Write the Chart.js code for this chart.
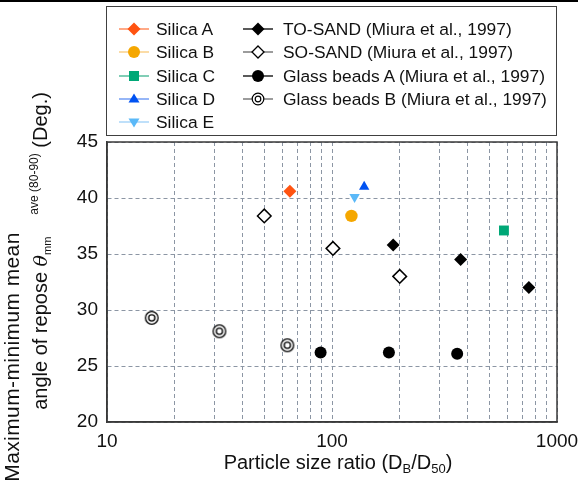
<!DOCTYPE html>
<html>
<head>
<meta charset="utf-8">
<script src="https://cdn.jsdelivr.net/npm/chart.js@4.4.1/dist/chart.umd.min.js"></script>
<style>
  body { margin: 0; background: #fff; font-family: "Liberation Sans", Arial, sans-serif; color: #111; }
  #wrap { position: relative; width: 578px; height: 480px; overflow: hidden; }
  #topbar { position: absolute; left: 0; top: 0; width: 578px; height: 2px; background: #000; }
  #legend { position: absolute; left: 106px; top: 6px; width: 451px; height: 130px; border: 1px solid #404040; box-sizing: border-box; }
  .mk { position: absolute; }
  .lbl { position: absolute; font-size: 17.4px; line-height: 20px; white-space: nowrap; }
  .ytitle { position: absolute; transform: translate(-50%, -50%) rotate(-90deg); white-space: nowrap; font-size: 20px; line-height: 24px; }
  .ytitle i { font-family: "DejaVu Serif", serif; font-size: 19px; }
  .ytitle sub { font-size: 11px; line-height: 0; vertical-align: -4px; }
  .ytitle sup { font-size: 12px; line-height: 0; vertical-align: 9px; margin-left: 22px; }
  #xtitle { position: absolute; left: 338px; top: 462px; transform: translate(-50%, -50%); white-space: nowrap; font-size: 20px; line-height: 24px; }
  #xtitle sub { font-size: 13px; line-height: 0; vertical-align: -4px; }
</style>
</head>
<body>
<div id="wrap">
  <canvas id="chart" width="578" height="480"></canvas>
  <div id="topbar"></div>
  <div id="legend"></div>
  <div class="ytitle" style="left:12px; top:357px; font-size:21px; letter-spacing:0.4px;">Maximum-minimum mean</div>
  <div class="ytitle" style="left:40px; top:251px;">angle of repose <i>θ</i><sub>mm</sub><sup>ave (80-90)</sup> (Deg.)</div>
  <div id="xtitle">Particle size ratio (D<sub>B</sub>/D<sub>50</sub>)</div>
</div>
<script>
/* =========================
   DATA
========================= */
const silicaLabels = ["Silica A", "Silica B", "Silica C", "Silica D", "Silica E"];
const silicaRatio = [65, 122, 581, 139, 126];
const silicaAngle = [40.6, 38.4, 37.1, 41.0, 40.1];

const toSandRatio = [187, 373, 750];
const toSandAngle = [35.8, 34.5, 32.0];

const soSandRatio = [50, 101, 200];
const soSandAngle = [38.4, 35.5, 33.0];

const glassARatio = [89, 179, 360];
const glassAAngle = [26.2, 26.2, 26.1];

const glassBRatio = [15.8, 31.6, 63.3];
const glassBAngle = [29.3, 28.1, 26.85];

const xGridValues = [10, 20, 30, 40, 50, 60, 70, 80, 90, 100, 200, 300, 400, 500, 600, 700, 800, 900, 1000];
const xTickLabels = [10, 100, 1000];
const yTickValues = [20, 25, 30, 35, 40, 45];

/* =========================
   STYLES
========================= */
const silicaColors = ["#FF5311", "#F5A700", "#00A877", "#0052F2", "#5BB9F8"];
const silicaLineColors = ["#FF7A45", "#F9C977", "#3DB48E", "#5E8FF3", "#9CCFF8"];
const silicaShapes = ["diamond", "circle", "square", "triUp", "triDown"];

const toPoints = (xs, ys) => xs.map((x, i) => ({ x, y: ys[i] }));

// double circle marker for Glass beads B
function doubleCircle() {
  const c = document.createElement("canvas");
  c.width = 16; c.height = 16;
  const g = c.getContext("2d");
  g.strokeStyle = "#000";
  g.lineWidth = 1.3;
  g.fillStyle = "#fff";
  g.beginPath(); g.arc(8, 8, 6.3, 0, Math.PI * 2); g.fill(); g.stroke();
  g.beginPath(); g.arc(8, 8, 3.1, 0, Math.PI * 2); g.stroke();
  return c;
}

function chartStyle(shape) {
  switch (shape) {
    case "diamond": return { pointStyle: "rectRot", radius: 6.5 };
    case "circle": return { pointStyle: "circle", radius: 6.2 };
    case "square": return { pointStyle: "rect", radius: 7 };
    case "triUp": return { pointStyle: "triangle", radius: 6 };
    case "triDown": return { pointStyle: "triangle", radius: 6, rotation: 180 };
  }
}

const datasets = silicaLabels.map((label, i) => {
  const s = chartStyle(silicaShapes[i]);
  return {
    label,
    data: [{ x: silicaRatio[i], y: silicaAngle[i] }],
    pointStyle: s.pointStyle,
    pointRadius: s.radius,
    rotation: s.rotation || 0,
    backgroundColor: silicaColors[i],
    borderColor: silicaColors[i],
    borderWidth: 0
  };
});

datasets.push(
  {
    label: "TO-SAND (Miura et al., 1997)",
    data: toPoints(toSandRatio, toSandAngle),
    pointStyle: "rectRot", pointRadius: 6.5,
    backgroundColor: "#000", borderColor: "#000", borderWidth: 0
  },
  {
    label: "SO-SAND (Miura et al., 1997)",
    data: toPoints(soSandRatio, soSandAngle),
    pointStyle: "rectRot", pointRadius: 6.8,
    backgroundColor: "#fff", borderColor: "#000", borderWidth: 1.5
  },
  {
    label: "Glass beads A (Miura et al., 1997)",
    data: toPoints(glassARatio, glassAAngle),
    pointStyle: "circle", pointRadius: 6,
    backgroundColor: "#000", borderColor: "#000", borderWidth: 0
  },
  {
    label: "Glass beads B (Miura et al., 1997)",
    data: toPoints(glassBRatio, glassBAngle),
    pointStyle: doubleCircle(), pointRadius: 6,
    backgroundColor: "#fff", borderColor: "#000", borderWidth: 0
  }
);

/* =========================
   LEGEND (html)
========================= */
function markerSvg(shape, fill, line) {
  const cx = 15, cy = 10;
  let m = "";
  if (shape === "diamond") m = `<polygon points="${cx},${cy - 6.5} ${cx + 6.5},${cy} ${cx},${cy + 6.5} ${cx - 6.5},${cy}" fill="${fill}"/>`;
  if (shape === "hollowDiamond") m = `<polygon points="${cx},${cy - 6} ${cx + 6},${cy} ${cx},${cy + 6} ${cx - 6},${cy}" fill="#fff" stroke="#000" stroke-width="1.3"/>`;
  if (shape === "circle") m = `<circle cx="${cx}" cy="${cy}" r="6" fill="${fill}"/>`;
  if (shape === "square") m = `<rect x="${cx - 5}" y="${cy - 5}" width="10" height="10" fill="${fill}"/>`;
  if (shape === "triUp") m = `<polygon points="${cx},${cy - 5.5} ${cx + 5.5},${cy + 3.5} ${cx - 5.5},${cy + 3.5}" fill="${fill}"/>`;
  if (shape === "triDown") m = `<polygon points="${cx},${cy + 5.5} ${cx + 5.5},${cy - 3.5} ${cx - 5.5},${cy - 3.5}" fill="${fill}"/>`;
  if (shape === "double") m = `<circle cx="${cx}" cy="${cy}" r="5.8" fill="#fff" stroke="#000" stroke-width="1.2"/><circle cx="${cx}" cy="${cy}" r="2.8" fill="none" stroke="#000" stroke-width="1.2"/>`;
  return `<svg width="30" height="20"><line x1="0" y1="${cy}" x2="30" y2="${cy}" stroke="${line}" stroke-width="1.3"/>${m}</svg>`;
}

const legendRows = [29, 52, 75.5, 98.5, 122];
const legendEntries = [];
silicaLabels.forEach((label, i) => {
  legendEntries.push({ label, col: 0, row: i, shape: silicaShapes[i], fill: silicaColors[i], line: silicaLineColors[i] });
});
legendEntries.push(
  { label: datasets[5].label, col: 1, row: 0, shape: "diamond", fill: "#000", line: "#000" },
  { label: datasets[6].label, col: 1, row: 1, shape: "hollowDiamond", fill: "#fff", line: "#666" },
  { label: datasets[7].label, col: 1, row: 2, shape: "circle", fill: "#000", line: "#000" },
  { label: datasets[8].label, col: 1, row: 3, shape: "double", fill: "#fff", line: "#666" }
);

const legendEl = document.getElementById("legend");
const colMarkerX = [119, 243];
const colTextX = [156, 283];
legendEntries.forEach(e => {
  const top = legendRows[e.row] - 7 - 10;
  const mk = document.createElement("div");
  mk.className = "mk";
  mk.style.left = (colMarkerX[e.col] - 107) + "px";
  mk.style.top = top + "px";
  mk.innerHTML = markerSvg(e.shape, e.fill, e.line);
  const lb = document.createElement("div");
  lb.className = "lbl";
  lb.style.left = (colTextX[e.col] - 107) + "px";
  lb.style.top = top + "px";
  lb.textContent = e.label;
  legendEl.appendChild(mk);
  legendEl.appendChild(lb);
});

/* =========================
   CHART
========================= */
const frame = {
  id: "frame",
  beforeDatasetsDraw(chart) {
    const { ctx, chartArea: a } = chart;
    ctx.save();
    ctx.setLineDash([]);
    ctx.strokeStyle = "#3a3a3a";
    ctx.lineWidth = 1.5;
    ctx.strokeRect(a.left, a.top, a.right - a.left, a.bottom - a.top);
    ctx.restore();
  }
};

const tickFont = { family: "'Liberation Sans', Arial, sans-serif", size: 19 };
const gridOpts = { color: "#8c96a4", lineWidth: 1, drawTicks: false, borderDash: [4, 3] };
const borderOpts = { display: true, color: "#3a3a3a", width: 1.5, dash: [4, 3] };

new Chart(document.getElementById("chart"), {
  type: "scatter",
  data: { datasets },
  options: {
    responsive: false,
    animation: false,
    layout: { padding: { top: 142, right: 21, left: 0, bottom: 0 } },
    plugins: { legend: { display: false }, tooltip: { enabled: false } },
    scales: {
      x: {
        type: "logarithmic",
        min: 10,
        max: 1000,
        afterBuildTicks: s => { s.ticks = xGridValues.map(v => ({ value: v })); },
        afterFit: s => { s.height = 58; s.paddingLeft = 0; s.paddingRight = 0; },
        ticks: {
          autoSkip: false,
          maxRotation: 0,
          padding: 8,
          color: "#111",
          font: tickFont,
          callback: v => (xTickLabels.includes(v) ? String(v) : "")
        },
        grid: gridOpts,
        border: borderOpts
      },
      y: {
        min: 20,
        max: 45,
        afterBuildTicks: s => { s.ticks = yTickValues.map(v => ({ value: v })); },
        afterFit: s => { s.width = 107; s.paddingTop = 0; s.paddingBottom = 0; },
        ticks: { padding: 9, color: "#111", font: tickFont },
        grid: gridOpts,
        border: borderOpts
      }
    }
  },
  plugins: [frame]
});
</script>
</body>
</html>
